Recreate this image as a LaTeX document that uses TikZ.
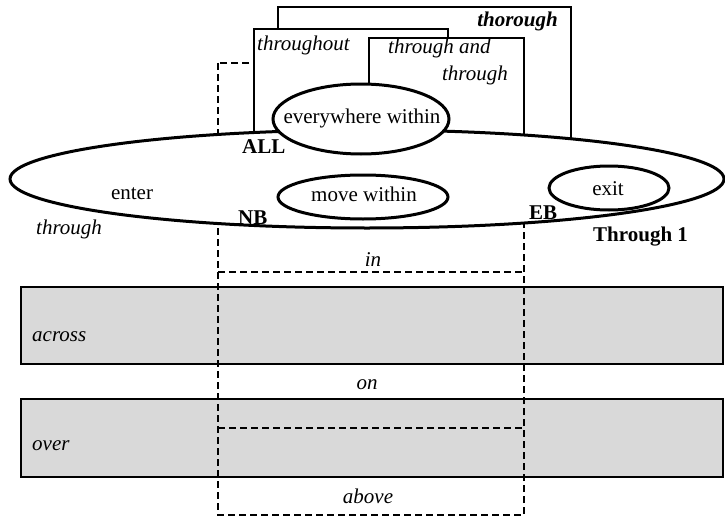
\documentclass[tikz,border=0pt]{standalone}
\usepackage{fontspec}
\setmainfont{Liberation Serif}
\usetikzlibrary{shapes.geometric}
\definecolor{boxgray}{HTML}{D9D9D9}
\begin{document}
\begin{tikzpicture}[x=1pt,y=-1pt,
  thinbox/.style={draw=black, line width=1.4pt, fill=white},
  graybox/.style={draw=black, line width=2pt, fill=boxgray},
  dashline/.style={draw=black, line width=2pt, dash pattern=on 7pt off 4pt},
  oval/.style={ellipse, draw=black, line width=3pt, fill=white, inner sep=0pt},
  lbl/.style={font=\fontsize{21}{25}\selectfont, inner sep=0pt, anchor=base},
  lblw/.style={lbl, anchor=base west},
  lble/.style={lbl, anchor=base east}]
\useasboundingbox (0,0) rectangle (725,519);
% grey bands
\draw[graybox] (21,287) rectangle (723,364);
\draw[graybox] (21,399) rectangle (723,477);
% dashed regions
\coordinate (dtl) at (218,63);
\coordinate (dbr) at (524,515);
\draw[dashline] (dtl) rectangle (dbr);
\draw[dashline] (218,272) -- (524,272);
\draw[dashline] (218,428) -- (524,428);
% boxes above the oval
\draw[thinbox] (278,7) rectangle (571,170);
\draw[thinbox] (254,29) rectangle (448,170);
\draw[thinbox] (369,38) rectangle (524,170);
% ovals
\node[oval, minimum width=714pt, minimum height=98pt] (big) at (367,179) {};
\node[oval, minimum width=176pt, minimum height=70pt] (ew) at (361,119) {};
\node[oval, minimum width=170pt, minimum height=44pt] (mw) at (363,197) {};
\node[oval, minimum width=120pt, minimum height=44pt] (ex) at (609,188) {};
% texts inside ovals
\node[lbl] (ewt) at (362,123.5) {everywhere within};
\node[lbl] (mwt) at (364,201) {move within};
\node[lbl] (ext) at (608,195) {exit};
% labels
\node[lble] (thorough) at (558,27) {\bfseries\itshape thorough};
\node[lblw] (throughout) at (257,51) {\itshape throughout};
\node[lblw] (tat1) at (388,54) {\itshape through and};
\node[lble] (tat2) at (508,81) {\itshape through};
\node[lblw] (all) at (242,153) {\bfseries ALL};
\node[lbl] (enter) at (132,199) {enter};
\node[lblw] (nb) at (238,224) {\bfseries NB};
\node[lblw] (eb) at (529,219) {\bfseries EB};
\node[lblw] (through) at (36,234) {\itshape through};
\node[lblw] (t1) at (593,241) {\bfseries Through 1};
\node[lbl] (in) at (373,266) {\itshape in};
\node[lbl] (on) at (367,389) {\itshape on};
\node[lbl] (above) at (368,503) {\itshape above};
\node[lblw] (across) at (32,341) {\itshape across};
\node[lblw] (over) at (32,450) {\itshape over};
\end{tikzpicture}
\end{document}
